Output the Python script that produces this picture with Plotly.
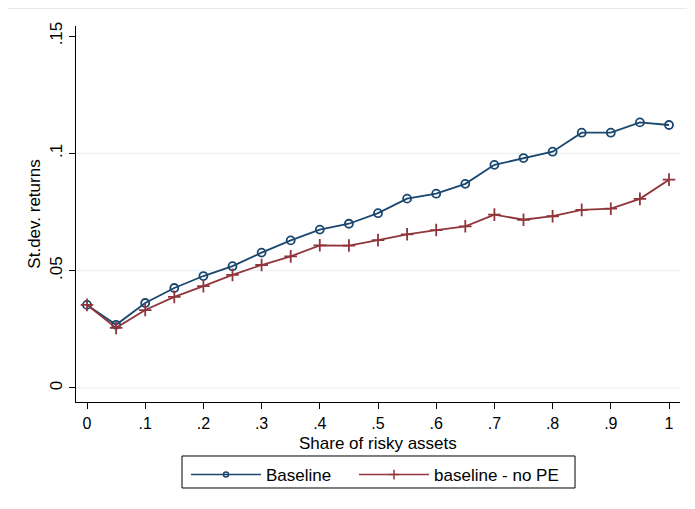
import plotly.graph_objects as go

share = [0, .05, .1, .15, .2, .25, .3, .35, .4, .45, .5, .55, .6, .65, .7, .75, .8, .85, .9, .95, 1]
baseline = [0.0354, 0.0269, 0.0362, 0.0426, 0.0477, 0.0519, 0.0577, 0.0629, 0.0675, 0.0700,
            0.0745, 0.0807, 0.0828, 0.0870, 0.0951, 0.0980, 0.1007, 0.1088, 0.1088, 0.1132, 0.1121]
no_pe = [0.0354, 0.0256, 0.0332, 0.0388, 0.0434, 0.0482, 0.0524, 0.0561, 0.0608, 0.0607,
         0.0630, 0.0655, 0.0673, 0.0689, 0.0739, 0.0717, 0.0732, 0.0759, 0.0764, 0.0806, 0.0888]

xticks = [0, .1, .2, .3, .4, .5, .6, .7, .8, .9, 1]
xlabels = ["0", ".1", ".2", ".3", ".4", ".5", ".6", ".7", ".8", ".9", "1"]
yticks = [0, .05, .1, .15]
ylabels = ["0", ".05", ".1", ".15"]

navy = "#1a476f"
maroon = "#90353b"

fig = go.Figure()
fig.add_trace(go.Scatter(
    x=share, y=baseline, mode="lines+markers", name="Baseline", showlegend=False,
    line=dict(color=navy, width=1.8),
    marker=dict(symbol="circle-open", size=8, color=navy, line=dict(width=1.8, color=navy)),
))
fig.add_trace(go.Scatter(
    x=share, y=no_pe, mode="lines+markers", name="baseline - no PE", showlegend=False,
    line=dict(color=maroon, width=1.8),
    marker=dict(symbol="cross-thin-open", size=9, color=maroon, line=dict(width=1.8, color=maroon)),
))
# legend entries with smaller symbols
fig.add_trace(go.Scatter(
    x=[None], y=[None], mode="lines+markers", name="Baseline", legend="legend",
    line=dict(color=navy, width=1.5),
    marker=dict(symbol="circle-open", size=5, color=navy, line=dict(width=1.5, color=navy)),
))
fig.add_trace(go.Scatter(
    x=[None], y=[None], mode="lines+markers", name="baseline - no PE", legend="legend2",
    line=dict(color=maroon, width=1.5),
    marker=dict(symbol="cross-thin-open", size=7, color=maroon, line=dict(width=1.5, color=maroon)),
))

for yv in [0, .05, .1]:
    fig.add_hline(y=yv, line=dict(color="#eaf2f3", width=1.2), layer="below")

# outer graph-region edge and legend frame
fig.add_shape(type="line", xref="paper", yref="paper", x0=-0.12, x1=1.03, y0=1.047, y1=1.047,
              line=dict(color="#e8e8e8", width=1.2))
fig.add_shape(type="rect", xref="paper", yref="paper", x0=0.1755, x1=0.8262, y0=-0.1436, y1=-0.2287,
              line=dict(color="black", width=1), fillcolor="rgba(0,0,0,0)")

fig.add_annotation(text="Share of risky assets", xref="paper", yref="paper", x=0.5, y=-0.111,
                   xanchor="center", yanchor="middle", showarrow=False, font=dict(size=17))

font = "Liberation Sans, Arial, sans-serif"
leg_common = dict(orientation="h", yanchor="top", y=-0.1463, xanchor="left",
                  borderwidth=0, bgcolor="rgba(0,0,0,0)", font=dict(size=17), itemwidth=70)
fig.update_layout(
    width=687, height=501,
    margin=dict(l=68, r=15, t=18, b=107, autoexpand=False),
    paper_bgcolor="white", plot_bgcolor="white",
    font=dict(family=font, size=17, color="black"),
    showlegend=True,
    legend=dict(x=0.1821, **leg_common),
    legend2=dict(x=0.4603, **leg_common),
    xaxis=dict(
        range=[-0.0189, 1.0189], tickvals=xticks, ticktext=xlabels, automargin=False,
        showgrid=False, zeroline=False, showline=True, linecolor="black", linewidth=1,
        ticks="outside", ticklen=6, tickcolor="black", ticklabelstandoff=1,
        tickfont=dict(size=16),
    ),
    yaxis=dict(
        range=[-0.006, 0.1543], tickvals=yticks, ticktext=ylabels, automargin=False,
        showgrid=False, zeroline=False, showline=True, linecolor="black", linewidth=1,
        ticks="outside", ticklen=6, tickcolor="black", tickangle=-90,
        title=dict(text="St.dev. returns", standoff=2, font=dict(size=17)),
        tickfont=dict(size=17),
    ),
)

fig.write_html("out.html")
